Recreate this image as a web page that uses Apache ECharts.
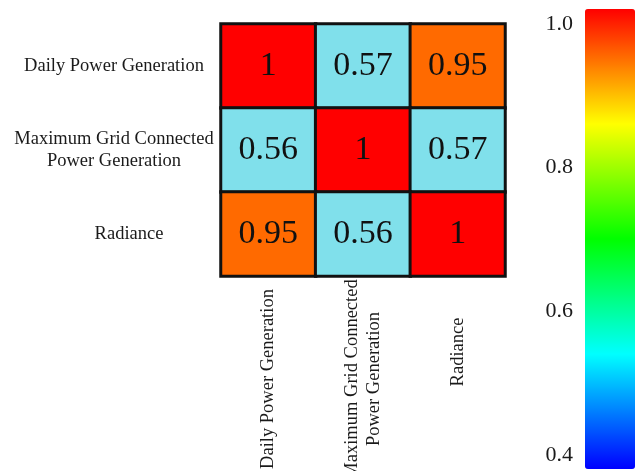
<!DOCTYPE html>
<html>
<head>
<meta charset="utf-8">
<style>
  html, body { margin: 0; padding: 0; background: #ffffff; }
  #chart { width: 636px; height: 471px; }
</style>
<script src="https://cdn.jsdelivr.net/npm/echarts@6/dist/echarts.min.js"></script>
</head>
<body>
<div id="chart"></div>
<script>
// Variables compared in the correlation matrix
const variables = [
  'Daily Power Generation',
  'Maximum Grid Connected\nPower Generation',
  'Radiance'
];

// Correlation coefficients, one row per variable (top to bottom)
const rowDaily = [1, 0.57, 0.95];
const rowMaxGrid = [0.56, 1, 0.57];
const rowRadiance = [0.95, 0.56, 1];

// Colour bar scale
const scaleMin = 0.4;
const scaleMax = 1.0;
const scaleStep = 0.2;

const matrix = [rowDaily, rowMaxGrid, rowRadiance];
const cells = [];
matrix.forEach((row, y) => {
  row.forEach((v, x) => cells.push([x, y, v]));
});

const serif = '"Liberation Serif", "Times New Roman", serif';

// The short "Radiance" label sits a little closer to the matrix
const xCategories = variables.map((name, i) =>
  i === 2 ? { value: name, textStyle: { align: 'center', padding: [0, 0, 0, 54] } } : name);
const yCategories = variables.map((name, i) =>
  i === 2 ? { value: name, textStyle: { align: 'center', padding: [0, 0, 0, 30] } } : name);

const chart = echarts.init(document.getElementById('chart'), null, { renderer: 'canvas' });

chart.setOption({
  backgroundColor: '#ffffff',
  animation: false,
  grid: [
    { left: 221, top: 24, width: 284, height: 252, outerBoundsMode: 'none', containLabel: false },
    { left: 585, top: 24, width: 50, height: 431, outerBoundsMode: 'none', containLabel: false }
  ],
  xAxis: [
    {
      type: 'category',
      gridIndex: 0,
      data: xCategories,
      position: 'bottom',
      axisLine: { show: false },
      axisTick: { show: false },
      splitLine: { show: false },
      axisLabel: {
        rotate: 90,
        align: 'center',
        margin: 103,
        fontFamily: serif,
        fontSize: 18.5,
        lineHeight: 22,
        color: '#1a1a1a',
        interval: 0
      }
    },
    {
      type: 'value',
      gridIndex: 1,
      show: false
    }
  ],
  yAxis: [
    {
      type: 'category',
      gridIndex: 0,
      data: yCategories,
      inverse: true,
      axisLine: { show: false },
      axisTick: { show: false },
      splitLine: { show: false },
      axisLabel: {
        align: 'center',
        margin: 107,
        fontFamily: serif,
        fontSize: 18.5,
        lineHeight: 22,
        color: '#1a1a1a',
        interval: 0
      }
    },
    {
      type: 'value',
      gridIndex: 1,
      min: scaleMin,
      max: scaleMax,
      interval: scaleStep,
      position: 'left',
      axisLine: { show: false },
      axisTick: { show: false },
      splitLine: { show: false },
      axisLabel: {
        margin: 12,
        fontFamily: serif,
        fontSize: 22,
        color: '#1a1a1a',
        formatter: (v) => v.toFixed(1)
      }
    }
  ],
  visualMap: [
    {
      // rainbow colour bar on the right
      type: 'continuous',
      min: scaleMin,
      max: scaleMax,
      seriesIndex: 1,
      calculable: false,
      show: true,
      left: 585,
      top: 9,
      itemWidth: 50,
      itemHeight: 460,
      padding: 0,
      text: null,
      showLabel: false,
      inRange: {
        color: ['#0000ff', '#00ffff', '#00ff00', '#ffff00', '#ff0000']
      }
    },
    {
      // fill colours of the matrix cells
      type: 'piecewise',
      seriesIndex: 0,
      show: false,
      pieces: [
        { lt: 0.7, color: '#80e0eb' },
        { gte: 0.7, lt: 0.99, color: '#ff6a00' },
        { gte: 0.99, color: '#ff0000' }
      ]
    }
  ],
  series: [
    {
      type: 'heatmap',
      xAxisIndex: 0,
      yAxisIndex: 0,
      data: cells,
      itemStyle: { borderColor: '#111111', borderWidth: 3 },
      label: {
        show: true,
        fontFamily: serif,
        fontSize: 34,
        color: '#111111',
        formatter: (p) => String(p.value[2])
      },
      emphasis: { disabled: true }
    },
    {
      type: 'scatter',
      xAxisIndex: 1,
      yAxisIndex: 1,
      data: [],
      silent: true
    }
  ]
});
</script>
</body>
</html>
